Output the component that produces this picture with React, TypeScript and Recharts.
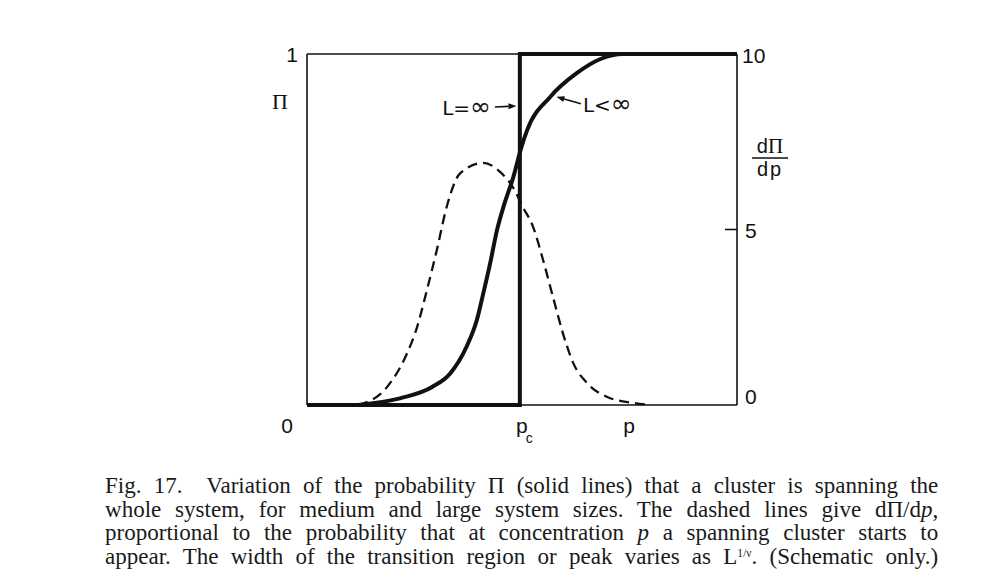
import { ComposedChart, Line, XAxis, YAxis, ReferenceLine, Label } from "recharts";

// p axis runs 0..10 (schematic), p_c sits just below the middle
const PC = 4.95;
const P_MARK = 7.49;

const X_TICKS = [0, PC, P_MARK];
const X_TICK_LABELS = ["0", "pc", "p"];
const LEFT_TICKS = [1];
const RIGHT_TICKS = [0, 5, 10];

// L = infinity: step function
const STEP_P = [0, PC, PC, 10];
const STEP_PI = [0, 0, 1, 1];

// L < infinity: smooth sigmoid
const FINITE_P = [1.19, 2.16, 2.92, 3.33, 3.71, 3.95, 4.1, 4.26, 4.42, 4.57, 4.8, 4.99, 5.12, 5.65, 6.28, 6.81, 7.35, 10];
const FINITE_PI = [0, 0.019, 0.052, 0.09, 0.166, 0.242, 0.318, 0.404, 0.499, 0.565, 0.65, 0.736, 0.783, 0.877, 0.946, 0.985, 1, 1];

// dPi/dp (right axis, 0..10)
const DERIV_P = [1.19, 1.86, 2.33, 2.56, 2.79, 3.02, 3.25, 3.56, 4.1, 4.49, 4.79, 5.02, 5.26, 5.49, 5.72, 5.95, 6.19, 6.51, 6.98, 7.58, 7.98];
const DERIV = [0, 0.51, 1.48, 2.22, 3.28, 4.42, 5.65, 6.6, 6.9, 6.64, 6.2, 5.64, 5.07, 4.13, 3.08, 2.05, 1.2, 0.63, 0.23, 0.06, 0];

const stepData = STEP_P.map((p, i) => ({ p, v: STEP_PI[i] }));
const finiteData = FINITE_P.map((p, i) => ({ p, v: FINITE_PI[i] }));
const derivData = DERIV_P.map((p, i) => ({ p, v: DERIV[i] }));

const INK = "#111";
const SANS = "'Liberation Sans', Arial, sans-serif";
const SERIF = "'Liberation Serif', 'Times New Roman', serif";
const DEJAVU = "'DejaVu Sans', sans-serif";

function XTick({ x, y, payload }: any) {
  const v = payload.value;
  if (v === 0) {
    return (
      <text x={x - 20} y={y + 28} textAnchor="middle" fontFamily={SANS} fontSize={21} fill={INK}>
        0
      </text>
    );
  }
  if (v === PC) {
    return (
      <g fontFamily={SANS} fill={INK}>
        <text x={x + 2} y={y + 28} textAnchor="middle" fontSize={21}>p</text>
        <text x={x + 6} y={y + 38} fontSize={14}>c</text>
      </g>
    );
  }
  return (
    <text x={x} y={y + 28} textAnchor="middle" fontFamily={SANS} fontSize={21} fill={INK}>
      {X_TICK_LABELS[X_TICKS.indexOf(v)]}
    </text>
  );
}

function LeftTick({ x, y, payload }: any) {
  return (
    <text x={x - 9} y={y + 8} textAnchor="end" fontFamily={SANS} fontSize={21} fill={INK}>
      {payload.value}
    </text>
  );
}

function RightTick({ x, y, payload }: any) {
  const v = payload.value;
  const dy = v === 0 ? -1 : v === 10 ? 9 : 8;
  const dx = v === 10 ? 5 : 8;
  return (
    <g>
      {v === 5 && <line x1={x - 12} y1={y} x2={x} y2={y} stroke={INK} strokeWidth={1.6} />}
      <text x={x + dx} y={y + dy} fontFamily={SANS} fontSize={21} fill={INK}>
        {v}
      </text>
    </g>
  );
}

function PiLabel({ viewBox }: any) {
  const { x, y, width } = viewBox;
  return (
    <text x={x + width - 27} y={y + 55} textAnchor="middle" fontFamily={SERIF} fontSize={22} fill={INK}>
      Π
    </text>
  );
}

function DerivLabel({ viewBox }: any) {
  const { x, y } = viewBox;
  const cx = x + 33;
  return (
    <g fill={INK} fontFamily={SANS} fontSize={20}>
      <text x={cx} y={y + 99} textAnchor="middle">
        d<tspan fontFamily={SERIF} fontSize={21}>Π</tspan>
      </text>
      <line x1={cx - 18} y1={y + 104} x2={cx + 18} y2={y + 104} stroke={INK} strokeWidth={1.5} />
      <text x={cx} y={y + 122} textAnchor="middle" letterSpacing={2}>
        dp
      </text>
    </g>
  );
}

// arrow pointing from (x1,y1) to (x2,y2), with a label placed next to the tail
function arrowShape(text: string, side: "left" | "right") {
  return (props: any) => {
    const { x1, y1, x2, y2 } = props;
    const a = Math.atan2(y2 - y1, x2 - x1);
    const len = 8;
    const w = 3;
    const bx = x2 - len * Math.cos(a);
    const by = y2 - len * Math.sin(a);
    const pts = [
      `${x2},${y2}`,
      `${bx - w * Math.sin(a)},${by + w * Math.cos(a)}`,
      `${bx + w * Math.sin(a)},${by - w * Math.cos(a)}`,
    ].join(" ");
    return (
      <g>
        <line x1={x1} y1={y1} x2={bx} y2={by} stroke={INK} strokeWidth={1.6} />
        <polygon points={pts} fill={INK} />
        <text
          x={side === "left" ? x1 - 4 : x1 + 2}
          y={y1 + 8}
          textAnchor={side === "left" ? "end" : "start"}
          fontFamily={DEJAVU}
          fontSize={20}
          fill={INK}
        >
          {text.slice(0, 2)}
          <tspan fontSize={25}>{text.slice(2)}</tspan>
        </text>
      </g>
    );
  };
}

const captionLine: React.CSSProperties = {
  textAlign: "justify",
  textAlignLast: "justify",
  whiteSpace: "normal",
};

export default function App() {
  return (
    <div
      style={{
        position: "absolute",
        left: 0,
        top: 0,
        width: 988,
        height: 580,
        background: "#fff",
      }}
    >
      <ComposedChart
        width={988}
        height={460}
        margin={{ top: 54, right: 191, bottom: 25, left: 267 }}
      >
        <XAxis
          dataKey="p"
          type="number"
          domain={[0, 10]}
          ticks={X_TICKS}
          tickSize={0}
          tickMargin={0}
          height={30}
          axisLine={{ stroke: INK, strokeWidth: 1.6 }}
          tickLine={false}
          tick={<XTick />}
          interval={0}
        />
        <YAxis
          yAxisId="left"
          type="number"
          domain={[0, 1]}
          ticks={LEFT_TICKS}
          width={40}
          tickSize={0}
          tickMargin={0}
          axisLine={{ stroke: INK, strokeWidth: 1.6 }}
          tickLine={false}
          tick={<LeftTick />}
        >
          <Label content={<PiLabel />} />
        </YAxis>
        <YAxis
          yAxisId="right"
          orientation="right"
          type="number"
          domain={[0, 10]}
          ticks={RIGHT_TICKS}
          width={60}
          tickSize={0}
          tickMargin={0}
          axisLine={{ stroke: INK, strokeWidth: 1.6 }}
          tickLine={false}
          tick={<RightTick />}
          interval={0}
        >
          <Label content={<DerivLabel />} />
        </YAxis>

        <ReferenceLine yAxisId="left" y={1} stroke={INK} strokeWidth={1.6} />

        <Line
          yAxisId="right"
          data={derivData}
          dataKey="v"
          type="monotone"
          stroke={INK}
          strokeWidth={2.3}
          strokeDasharray="10 6"
          dot={false}
          isAnimationActive={false}
        />
        <Line
          yAxisId="left"
          data={finiteData}
          dataKey="v"
          type="monotone"
          stroke={INK}
          strokeWidth={4}
          dot={false}
          isAnimationActive={false}
        />
        <Line
          yAxisId="left"
          data={stepData}
          dataKey="v"
          type="linear"
          stroke={INK}
          strokeWidth={4}
          strokeLinejoin="miter"
          dot={false}
          isAnimationActive={false}
        />

        <ReferenceLine
          yAxisId="left"
          segment={[
            { x: 4.37, y: 0.849 },
            { x: 4.87, y: 0.852 },
          ]}
          shape={arrowShape("L=∞", "left")}
        />
        <ReferenceLine
          yAxisId="left"
          segment={[
            { x: 6.37, y: 0.858 },
            { x: 5.8, y: 0.878 },
          ]}
          shape={arrowShape("L<∞", "right")}
        />
      </ComposedChart>

      <div
        style={{
          position: "absolute",
          left: 105,
          top: 474,
          width: 868,
          transform: "scaleX(0.96)",
          transformOrigin: "0 0",
          fontFamily: SERIF,
          fontSize: 24,
          lineHeight: "23.5px",
          color: "#1a1a1a",
        }}
      >
        <div style={captionLine}>
          Fig. 17.&nbsp; Variation of the probability Π (solid lines) that a cluster is spanning the
        </div>
        <div style={captionLine}>
          whole system, for medium and large system sizes. The dashed lines give dΠ/d<i>p</i>,
        </div>
        <div style={captionLine}>
          proportional to the probability that at concentration <i>p</i> a spanning cluster starts to
        </div>
        <div style={captionLine}>
          appear. The width of the transition region or peak varies as L
          <span style={{ fontSize: 12, lineHeight: "12px", position: "relative", top: -7 }}>1/ν</span>. (Schematic only.)
        </div>
      </div>
    </div>
  );
}
